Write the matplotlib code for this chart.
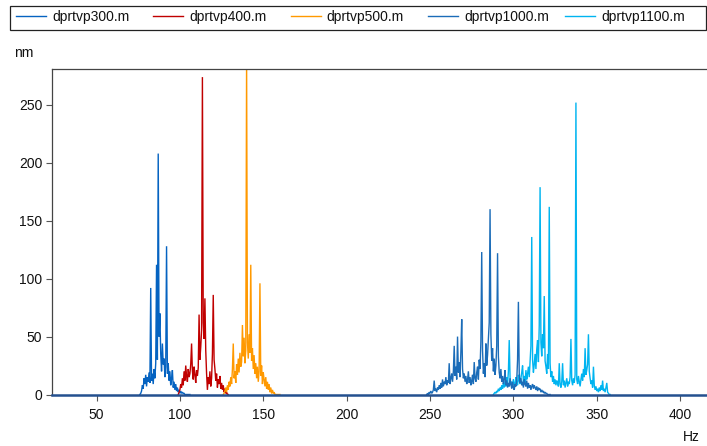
import numpy as np
import matplotlib
matplotlib.use("Agg")
import matplotlib.pyplot as plt
from matplotlib.lines import Line2D
from matplotlib.patches import Rectangle

plt.rcParams['font.family'] = ['Liberation Sans', 'DejaVu Sans']

# series names and colours
names = ['dprtvp300.m', 'dprtvp400.m', 'dprtvp500.m', 'dprtvp1000.m', 'dprtvp1100.m']
colors = ['#0563C1', '#C00000', '#FF9900', '#1B6CB8', '#00B4F0']

# frequency bins are 0.5 Hz apart, each series starts at its own first bin
bin_step = 0.5
start_300 = 76.0
amp_300 = [0, 1, 3, 8, 5, 14, 9, 17, 7, 15, 11, 19, 10, 92, 12, 18, 9, 22, 14, 27,
           112, 30, 208, 50, 70, 35, 20, 44, 26, 31, 15, 24, 128, 18, 27, 12, 20, 8,
           14, 21, 6, 11, 4, 9, 3, 6, 2, 4, 1, 3, 1, 2, 1, 1, 0, 0, 0, 0, 0, 0, 0]

start_400 = 99.0
amp_400 = [0, 2, 4, 9, 6, 14, 8, 20, 12, 25, 16, 11, 22, 15, 18, 26, 44, 20, 13, 24,
           17, 10, 21, 16, 23, 69, 30, 41, 55, 274, 62, 48, 83, 38, 18, 4, 15, 9, 20,
           7, 14, 35, 86, 30, 22, 12, 18, 6, 13, 9, 16, 5, 10, 4, 8, 2, 5, 1, 2, 0, 0]

start_500 = 126.0
amp_500 = [0, 1, 3, 6, 2, 8, 4, 11, 7, 15, 9, 22, 44, 14, 20, 10, 26, 17, 31, 19,
           36, 24, 28, 60, 33, 49, 27, 38, 290, 45, 31, 52, 36, 112, 29, 40, 22, 34,
           18, 27, 14, 24, 11, 20, 96, 16, 25, 9, 19, 13, 7, 15, 5, 11, 4, 9, 2, 6,
           1, 4, 1, 2, 0, 0, 0, 0, 0, 0, 0]

start_1000 = 248.0
amp_1000 = [0, 1, 0, 2, 1, 3, 1, 2, 4, 12, 3, 5, 2, 6, 4, 8, 5, 10, 6, 13,
            7, 11, 9, 15, 8, 12, 10, 27, 9, 14, 18, 11, 20, 42, 16, 24, 13, 50, 19, 28,
            15, 37, 65, 22, 14, 18, 11, 16, 9, 13, 20, 10, 15, 8, 12, 17, 9, 28, 14, 11,
            19, 24, 13, 30, 22, 46, 123, 38, 18, 27, 15, 44, 25, 34, 48, 62, 160, 52, 29, 40,
            20, 31, 17, 25, 42, 122, 33, 19, 14, 22, 11, 16, 9, 13, 21, 8, 12, 6, 10, 7,
            14, 9, 5, 11, 6, 4, 9, 7, 12, 30, 80, 18, 10, 14, 8, 11, 6, 13, 9, 7,
            12, 5, 10, 6, 8, 4, 7, 9, 5, 8, 6, 4, 7, 3, 6, 4, 5, 2, 4, 2,
            3, 1, 2, 1, 1, 0, 0, 0, 0]

start_1100 = 288.0
amp_1100 = [0, 1, 2, 1, 3, 2, 5, 3, 6, 4, 8, 5, 10, 6, 12, 7, 15, 9, 20, 47,
            14, 8, 11, 6, 13, 9, 7, 15, 10, 8, 17, 12, 9, 14, 19, 25, 11, 16, 9, 21,
            13, 18, 24, 15, 28, 42, 136, 30, 19, 26, 35, 22, 39, 47, 28, 60, 179, 45, 33, 52,
            40, 85, 29, 24, 18, 35, 22, 162, 27, 15, 20, 11, 16, 9, 13, 8, 12, 10, 7, 27,
            9, 6, 11, 27, 8, 12, 6, 10, 14, 7, 11, 9, 15, 48, 12, 8, 14, 10, 17, 252,
            13, 9, 16, 11, 7, 13, 18, 12, 22, 15, 40, 17, 21, 26, 52, 20, 14, 9, 12, 6,
            24, 8, 4, 7, 3, 5, 2, 6, 3, 8, 4, 12, 3, 5, 2, 6, 10, 2, 1, 0, 0]

starts = [start_300, start_400, start_500, start_1000, start_1100]
amps = [amp_300, amp_400, amp_500, amp_1000, amp_1100]

x_ticks = [50, 100, 150, 200, 250, 300, 350, 400]
y_ticks = [0, 50, 100, 150, 200, 250]

W, H = 707, 446
fig = plt.figure(figsize=(W / 100, H / 100), dpi=100)
ax = fig.add_axes([52 / W, 1 - 394.5 / H, (706 - 52) / W, (394.5 - 69) / H])

xmin, xmax = 23.3, 415.5
for i in [0, 1, 2, 4, 3]:
    a = np.array(amps[i], dtype=float)
    f = starts[i] + bin_step * np.arange(len(a))
    ax.plot(f, a, color=colors[i], lw=1.0, solid_joinstyle='miter')

ax.set_xlim(xmin, xmax)
ax.set_ylim(0, 281)
ax.set_xticks(x_ticks)
ax.set_yticks(y_ticks)
ax.tick_params(axis='both', direction='out', length=4, width=0.8, color='#555555',
               labelsize=10, labelcolor='#111111')
ax.tick_params(axis='x', pad=6)
ax.tick_params(axis='y', pad=3)
for side in ['left', 'top']:
    ax.spines[side].set_color('#444444')
    ax.spines[side].set_linewidth(0.9)
# the zero line reads as a dark blue rule under all the spectra
ax.spines['bottom'].set_color('#24508F')
ax.spines['bottom'].set_linewidth(1.8)
ax.spines['right'].set_visible(False)

fig.text(14 / W, 1 - 53 / H, 'nm', fontsize=10, va='center', ha='left', color='#111111')
fig.text(700 / W, 1 - 437 / H, 'Hz', fontsize=10, va='center', ha='right', color='#111111')

# legend box across the top
fig.patches.append(Rectangle((9.5 / W, 1 - 29.5 / H), (706 - 9.5) / W, 23.5 / H,
                             transform=fig.transFigure, fill=False,
                             edgecolor='#222222', linewidth=0.9))
for k, (name, c) in enumerate(zip(names, colors)):
    x0 = 16 + k * 137.3
    fig.lines.append(Line2D([x0 / W, (x0 + 30) / W], [1 - 16 / H, 1 - 16 / H],
                            transform=fig.transFigure, color=c, lw=1.0))
    fig.text((x0 + 36) / W, 1 - 16.5 / H, name, fontsize=10, va='center',
             ha='left', color='#111111')

fig.savefig('out.png', dpi=100)
